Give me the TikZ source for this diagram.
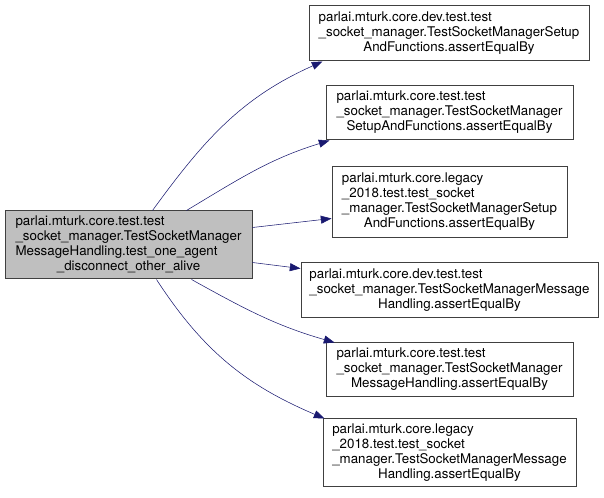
\documentclass[tikz,border=0pt]{standalone}
\usepackage{fontspec}
\setmainfont{TeX Gyre Heros}
\usetikzlibrary{positioning,calc,arrows.meta}

\definecolor{edgeblue}{RGB}{25,25,112}
\definecolor{rootgray}{RGB}{191,191,191}
\definecolor{boxline}{RGB}{64,64,64}

% one doxygen label: left-aligned lines, the last one centred
\newcommand{\dxlabel}[2]{\begin{tabular}{@{}l@{}}#1\\\multicolumn{1}{@{}c@{}}{#2}\end{tabular}}

\begin{document}
\begin{tikzpicture}[x=0.75pt, y=0.75pt]
	\useasboundingbox (0,0) rectangle (604,-498);
	\begin{scope}
		\tikzstyle{every node}=[draw=boxline, line width=0.75pt, fill=white, inner sep=0pt, font=\fontsize{10}{11.25}\selectfont]

		\node[fill=rootgray, minimum width=185.25pt, minimum height=51pt] (main) at (128.5, -245)
			{\dxlabel{parlai.mturk.core.test.test\\\_socket\_manager.TestSocketManager\\MessageHandling.test\_one\_agent}{\_disconnect\_other\_alive}};

		\node[minimum width=210pt, minimum height=41.25pt] (devsetup) at (449, -33.5)
			{\dxlabel{parlai.mturk.core.dev.test.test\\\_socket\_manager.TestSocketManagerSetup}{AndFunctions.assertEqualBy}};
		\node[minimum width=185.25pt, minimum height=40.5pt] (setup) at (449.5, -113)
			{\dxlabel{parlai.mturk.core.test.test\\\_socket\_manager.TestSocketManager}{SetupAndFunctions.assertEqualBy}};
		\node[minimum width=176.25pt, minimum height=53.25pt] (legsetup) at (449.5, -202.5)
			{\dxlabel{parlai.mturk.core.legacy\\\_2018.test.test\_socket\\\_manager.TestSocketManagerSetup}{AndFunctions.assertEqualBy}};
		\node[minimum width=222.75pt, minimum height=41.25pt] (devmsg) at (449.5, -290.5)
			{\dxlabel{parlai.mturk.core.dev.test.test\\\_socket\_manager.TestSocketManagerMessage}{Handling.assertEqualBy}};
		\node[minimum width=185.25pt, minimum height=40.5pt] (msg) at (449.5, -370)
			{\dxlabel{parlai.mturk.core.test.test\\\_socket\_manager.TestSocketManager}{MessageHandling.assertEqualBy}};
		\node[minimum width=189.75pt, minimum height=51pt] (legmsg) at (449.5, -453)
			{\dxlabel{parlai.mturk.core.legacy\\\_2018.test.test\_socket\\\_manager.TestSocketManagerMessage}{Handling.assertEqualBy}};

		\draw [edgeblue, ->, >={Triangle[length=8pt, width=6pt]}] ($(main.north west)+(148,0)$) to[out=54, in=204] ($(devsetup.south west)+(14,0)$);
		\draw [edgeblue, ->, >={Triangle[length=8pt, width=6pt]}] ($(main.north west)+(182,0)$) to[out=31, in=197] ($(setup.south west)+(4,0)$);
		\draw [edgeblue, ->, >={Triangle[length=8pt, width=6pt]}] ($(main.north east)+(0,-17)$) to ($(legsetup.south west)+(0,20)$);
		\draw [edgeblue, ->, >={Triangle[length=8pt, width=6pt]}] ($(main.south east)+(0,17)$) to ($(devmsg.north west)+(0,-6)$);
		\draw [edgeblue, ->, >={Triangle[length=8pt, width=6pt]}] ($(main.south west)+(187,0)$) to[out=-29, in=164] ($(msg.north west)+(9,0)$);
		\draw [edgeblue, ->, >={Triangle[length=8pt, width=6pt]}] ($(main.south west)+(152,0)$) to[out=-57, in=157] ($(legmsg.north west)+(2,0)$);
	\end{scope}
\end{tikzpicture}
\end{document}
